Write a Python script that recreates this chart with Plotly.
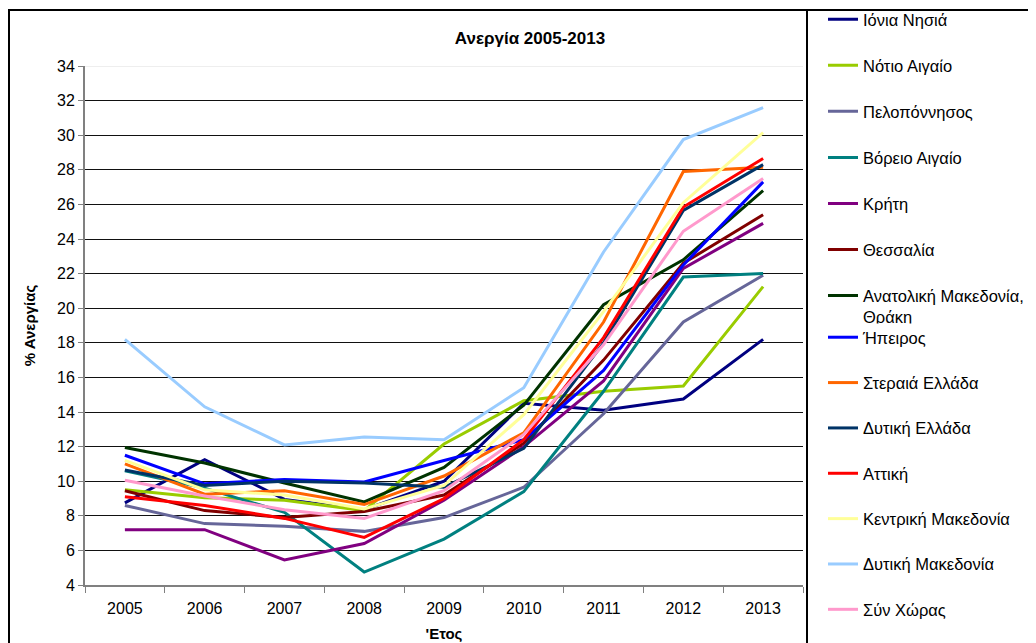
import plotly.graph_objects as go

years = ["2005", "2006", "2007", "2008", "2009", "2010", "2011", "2012", "2013"]

regions = [
    "Ιόνια Νησιά",
    "Νότιο Αιγαίο",
    "Πελοπόννησος",
    "Βόρειο Αιγαίο",
    "Κρήτη",
    "Θεσσαλία",
    "Ανατολική Μακεδονία,<br>Θράκη",
    "Ήπειρος",
    "Στεραιά Ελλάδα",
    "Δυτική Ελλάδα",
    "Αττική",
    "Κεντρική Μακεδονία",
    "Δυτική Μακεδονία",
    "Σύν Χώρας",
]

ionia = [8.75, 11.25, 8.95, 8.35, 10.0, 14.5, 14.1, 14.75, 18.2]
notio_aigaio = [9.5, 9.05, 8.9, 8.3, 12.15, 14.65, 15.2, 15.5, 21.25]
peloponnisos = [8.6, 7.55, 7.4, 7.1, 7.9, 9.65, 13.9, 19.2, 21.9]
voreio_aigaio = [10.6, 9.6, 8.2, 4.75, 6.65, 9.4, 15.2, 21.8, 22.0]
kriti = [7.2, 7.2, 5.45, 6.4, 8.9, 12.0, 15.8, 22.3, 24.9]
thessalia = [9.45, 8.3, 7.9, 8.25, 9.2, 12.2, 17.0, 22.6, 25.4]
anat_makedonia = [11.95, 11.05, 9.9, 8.8, 10.8, 14.4, 20.2, 22.8, 26.8]
ipeiros = [11.5, 9.85, 10.1, 9.95, 11.2, 12.4, 16.4, 22.5, 27.3]
sterea = [11.0, 9.25, 9.45, 8.65, 10.3, 12.8, 19.2, 27.9, 28.15]
dytiki_ellada = [10.65, 9.75, 10.0, 9.9, 9.65, 11.9, 18.0, 25.65, 28.3]
attiki = [9.1, 8.6, 7.85, 6.75, 9.0, 12.4, 18.3, 25.85, 28.65]
kentriki_makedonia = [11.2, 9.5, 9.2, 8.4, 9.75, 13.85, 19.8, 26.1, 30.15]
dytiki_makedonia = [18.2, 14.3, 12.1, 12.55, 12.4, 15.4, 23.25, 29.75, 31.6]
syn_xoras = [10.05, 9.15, 8.35, 7.85, 9.45, 12.7, 17.9, 24.45, 27.5]

series = [ionia, notio_aigaio, peloponnisos, voreio_aigaio, kriti, thessalia,
          anat_makedonia, ipeiros, sterea, dytiki_ellada, attiki,
          kentriki_makedonia, dytiki_makedonia, syn_xoras]

colors = ["#000080", "#99CC00", "#666699", "#008080", "#800080", "#800000",
          "#003300", "#0000FF", "#FF6600", "#003366", "#FF0000",
          "#FFFF99", "#99CCFF", "#FF99CC"]

y_ticks = list(range(4, 35, 2))

FONT = "Liberation Sans, Arial, sans-serif"

# page is shown with an 8px body margin: convert screen px -> figure px
OFF = 8
FIG_W, FIG_H = 1036, 643
# plot area in screen pixels
SL, SR, ST, SB = 85, 803, 66, 585
L = SL - OFF
T = ST - OFF
R = FIG_W - (SR - OFF)
B = FIG_H - (SB - OFF)
W = FIG_W - L - R
H = FIG_H - T - B


def px(sx):
    return (sx - OFF - L) / W


def py(sy):
    return (FIG_H - B - (sy - OFF)) / H


fig = go.Figure()
for i, (name, vals, col) in enumerate(zip(regions, series, colors)):
    fig.add_trace(go.Scatter(
        x=years, y=vals, name=name, mode="lines",
        line=dict(color=col, width=3),
        legendgroup=name,
        legend="legend" if i < 7 else "legend2",
    ))

shapes = [
    dict(type="rect", xref="paper", yref="paper",
         x0=px(9), x1=px(1080), y0=py(680), y1=py(10),
         line=dict(color="black", width=2), layer="above"),
    dict(type="line", xref="paper", yref="paper",
         x0=px(807), x1=px(807), y0=py(680), y1=py(10),
         line=dict(color="black", width=2), layer="above"),
    dict(type="line", xref="paper", yref="y",
         x0=0, x1=1, y0=34, y1=34,
         line=dict(color="#dddddd", width=1), layer="above"),
]

legend_common = dict(
    xanchor="left", yanchor="top",
    font=dict(family=FONT, size=16.5, color="black"),
    valign="top", bgcolor="rgba(0,0,0,0)", borderwidth=0,
)

fig.update_layout(
    width=FIG_W, height=FIG_H,
    margin=dict(l=L, r=R, t=T, b=B, autoexpand=False),
    paper_bgcolor="white", plot_bgcolor="white",
    font=dict(family=FONT, size=16, color="black"),
    title=dict(text="<b>Ανεργία 2005-2013</b>",
               x=(530 - OFF) / FIG_W, xanchor="center",
               y=1 - (38 - OFF) / FIG_H, yanchor="middle",
               font=dict(family=FONT, size=17, color="black")),
    xaxis=dict(
        type="category", range=[-0.5, 8.5], tickson="boundaries",
        ticks="outside", ticklen=6, ticklabelstandoff=8,
        tickcolor="#808080", showline=True, linecolor="#808080", linewidth=2,
        showgrid=False, tickfont=dict(size=16),
        title=dict(text="<b>'Ετος</b>", font=dict(size=15), standoff=12),
    ),
    yaxis=dict(
        range=[4, 34], tickvals=y_ticks, ticks="outside", ticklen=5,
        tickcolor="#808080", showline=True, linecolor="#808080", linewidth=2,
        showgrid=True, gridcolor="#111111", gridwidth=1,
        tickfont=dict(size=16), zeroline=False,
        title=dict(text="<b>% Ανεργίας</b>", font=dict(size=15), standoff=18),
    ),
    legend=dict(x=px(823), y=py(2), tracegroupgap=21.6, **legend_common),
    legend2=dict(x=px(823), y=py(320), tracegroupgap=20.9, **legend_common),
    shapes=shapes,
    showlegend=True,
)

fig.write_html("out.html")
